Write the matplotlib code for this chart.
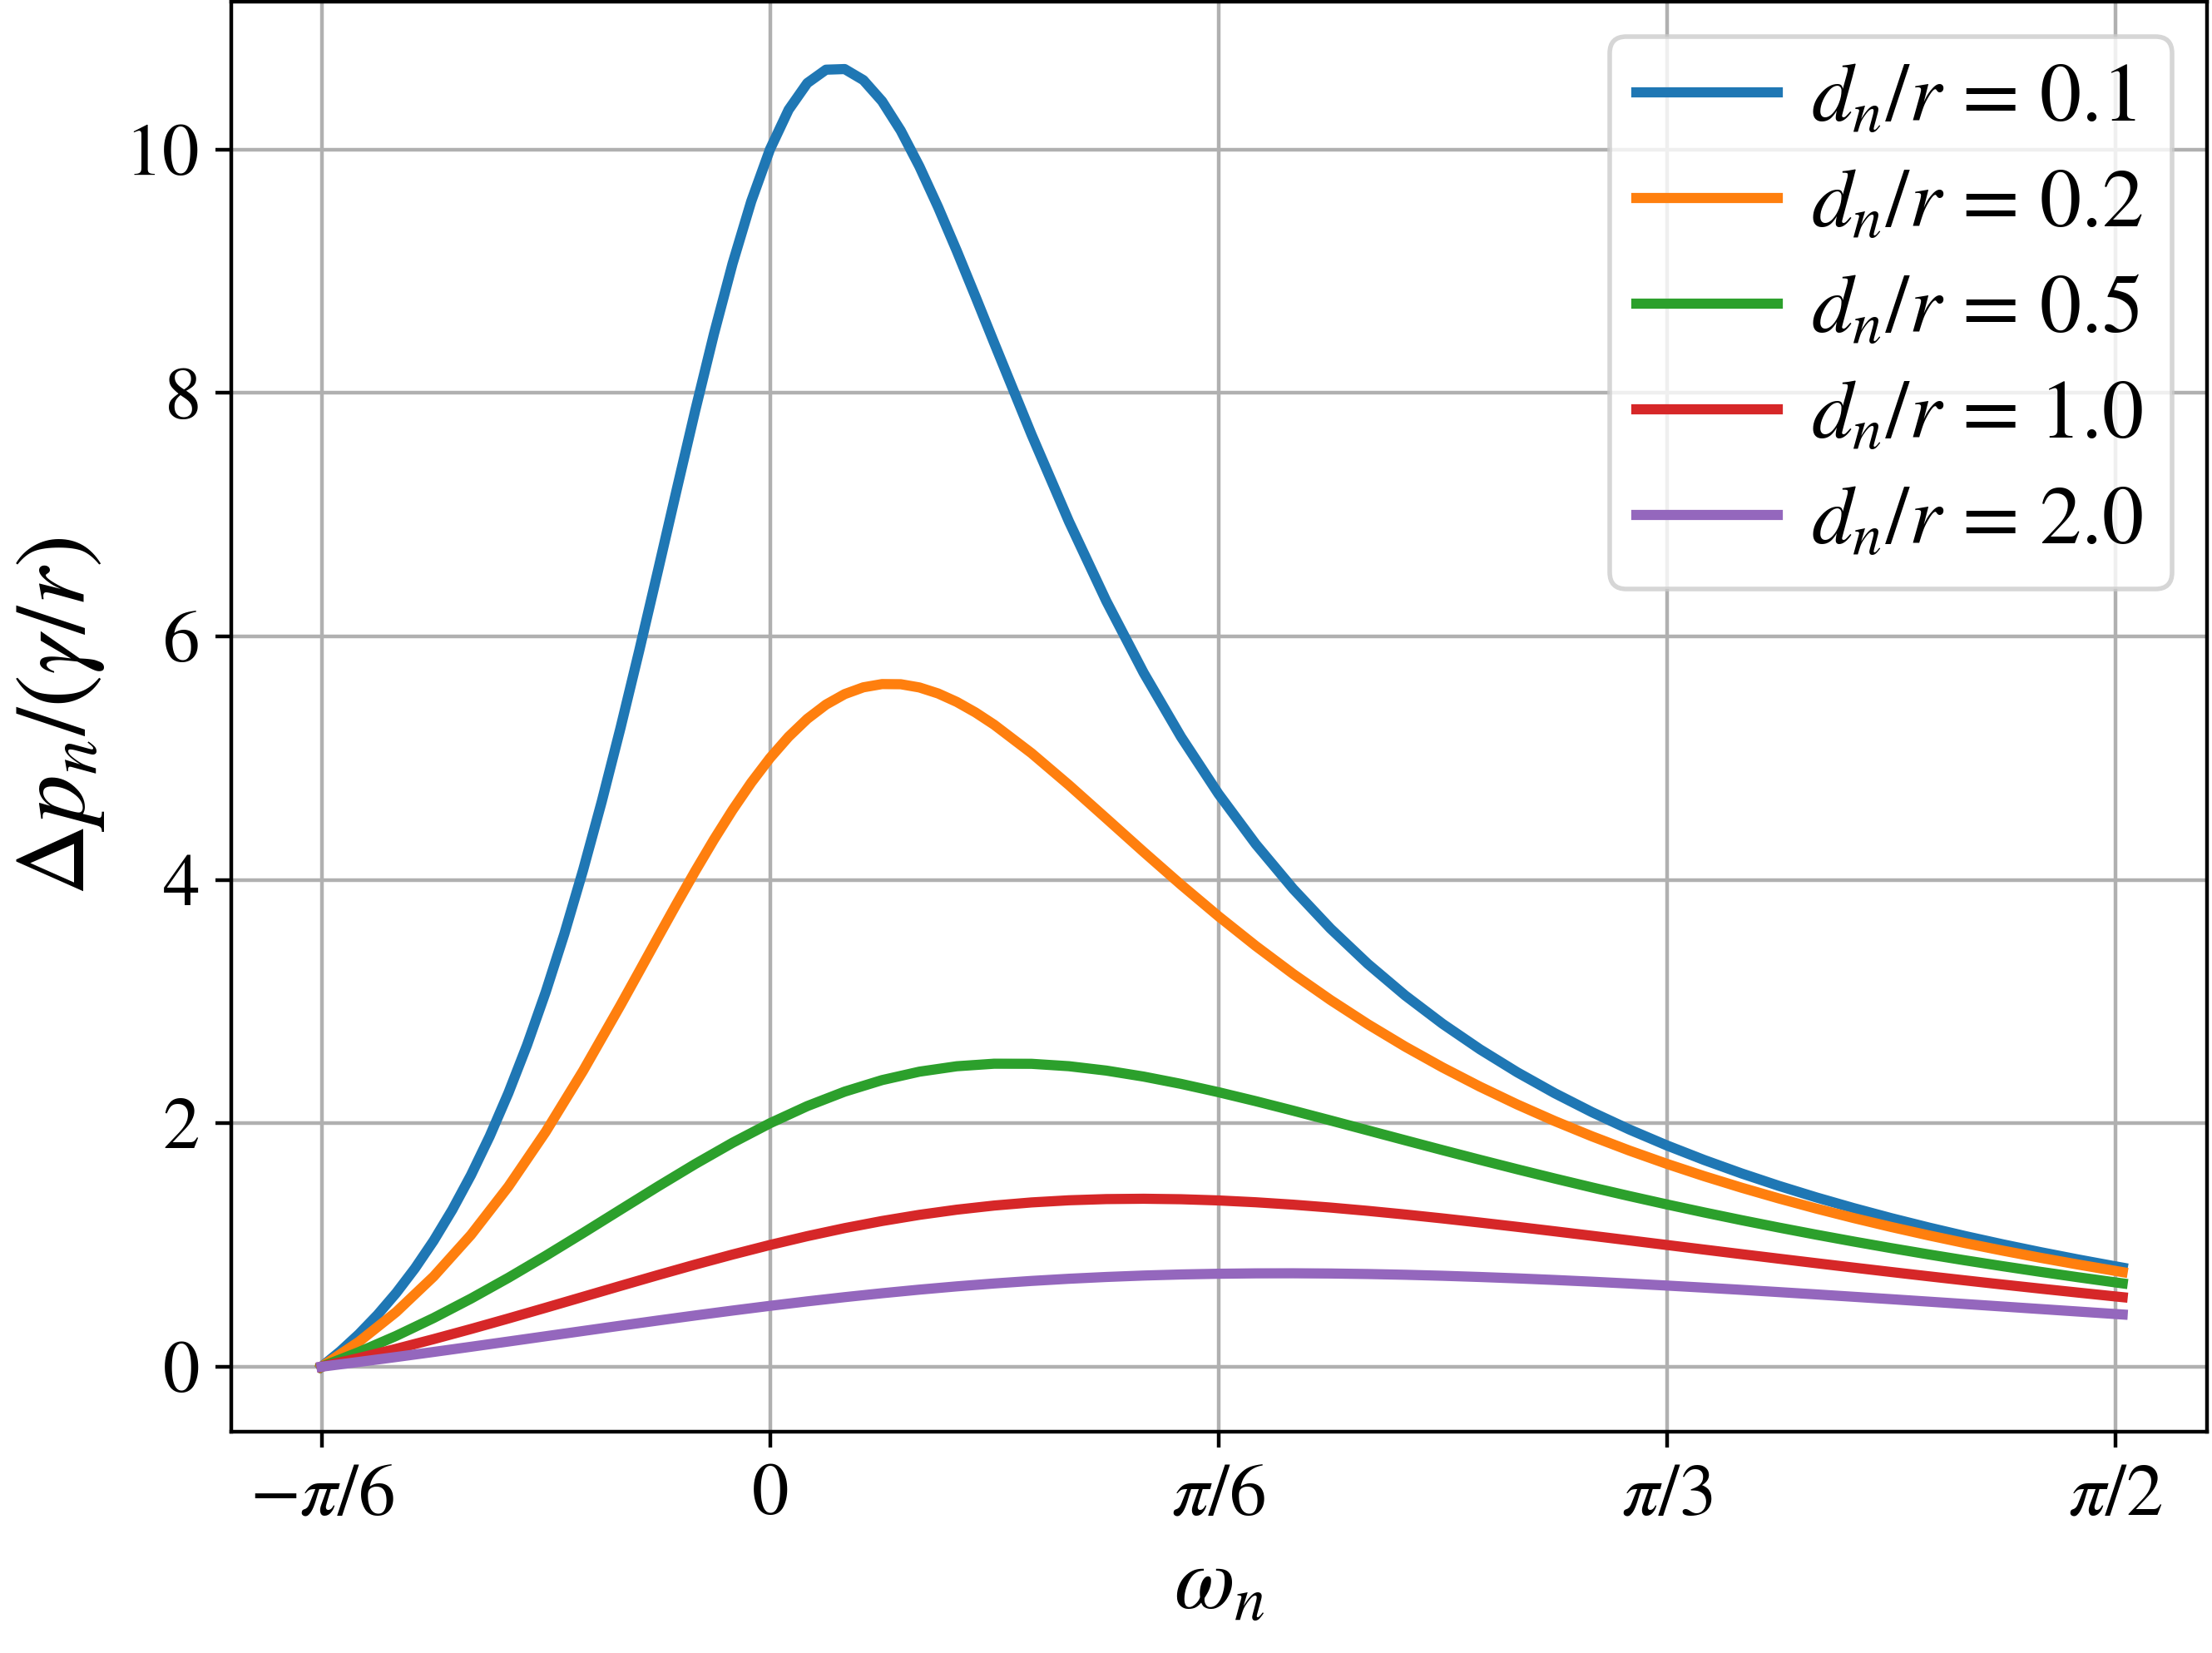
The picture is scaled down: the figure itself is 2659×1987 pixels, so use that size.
import numpy as np
import matplotlib
matplotlib.use("Agg")
import matplotlib.pyplot as plt

plt.rcParams["font.family"] = ["STIXGeneral", "Liberation Serif", "DejaVu Serif"]
plt.rcParams["mathtext.fontset"] = "stix"

# omega_n in degrees (converted to radians for plotting)
omega_deg = [-30, -27.5, -25, -22.5, -20, -17.5, -15, -12.5, -10, -7.5, -5, -2.5,
             0, 2.5, 5, 7.5, 10, 12.5, 15, 17.5, 20, 22.5, 25, 27.5,
             30, 32.5, 35, 37.5, 40, 42.5, 45, 47.5, 50, 52.5, 55, 57.5,
             60, 62.5, 65, 67.5, 70, 72.5, 75, 77.5, 80, 82.5, 85, 87.5, 90, 90.5]

# finer sampling where the d/r = 0.1 curve bends sharply
omega_deg_01 = [-30, -28.75, -27.5, -26.25, -25, -23.75, -22.5, -21.25, -20, -18.75, -17.5, -16.25,
                -15, -13.75, -12.5, -11.25, -10, -8.75, -7.5, -6.25, -5, -3.75, -2.5, -1.25,
                0, 1.25, 2.5, 3.75, 5, 6.25, 7.5, 8.75, 10, 11.25, 12.5, 13.75,
                15, 17.5, 20, 22.5, 25, 27.5,
                30, 32.5, 35, 37.5, 40, 42.5, 45, 47.5, 50, 52.5, 55, 57.5,
                60, 62.5, 65, 67.5, 70, 72.5, 75, 77.5, 80, 82.5, 85, 87.5, 90, 90.5]

dp_01 = [0.0, 0.1259, 0.2676, 0.4271, 0.6065, 0.8083, 1.0349, 1.2893, 1.5742, 1.8928, 2.2480, 2.6424,
         3.0785, 3.5575, 4.0800, 4.6441, 5.2464, 5.8801, 6.5354, 7.1991, 7.8546, 8.4826, 9.0625, 9.5742,
         10.0, 10.3263, 10.5453, 10.6552, 10.6603, 10.5697, 10.3964, 10.1548, 9.8599, 9.5260, 9.1663, 8.7915,
         8.4105, 7.6574, 6.9446, 6.2904, 5.7007, 5.1745,
         4.7073, 4.2932, 3.9260, 3.5998, 3.3093, 3.0497, 2.8170, 2.6076, 2.4184, 2.2470, 2.0910, 1.9486,
         1.8182, 1.6983, 1.5879, 1.4857, 1.3910, 1.3030, 1.2209, 1.1442, 1.0723, 1.0048, 0.9413, 0.8814, 0.8248, 0.8138]

# finer sampling around the d/r = 0.2 peak
omega_deg_02 = [-30, -27.5, -25, -22.5, -20, -17.5, -15, -12.5,
                -10, -8.75, -7.5, -6.25, -5, -3.75, -2.5, -1.25,
                0, 1.25, 2.5, 3.75, 5, 6.25, 7.5, 8.75, 10, 11.25, 12.5, 13.75,
                15, 17.5, 20, 22.5, 25, 27.5,
                30, 32.5, 35, 37.5, 40, 42.5, 45, 47.5, 50, 52.5, 55, 57.5,
                60, 62.5, 65, 67.5, 70, 72.5, 75, 77.5, 80, 82.5, 85, 87.5, 90, 90.5]

dp_02 = [0.0, 0.2048, 0.4500, 0.7411, 1.0832, 1.4796, 1.9304, 2.4309,
         2.9691, 3.2465, 3.5253, 3.8015, 4.0713, 4.3302, 4.5740, 4.7985,
         5.0, 5.1754, 5.3224, 5.4393, 5.5255, 5.5813, 5.6079, 5.6067, 5.5801, 5.5307, 5.4613, 5.3748,
         5.2740, 5.0401, 4.7786, 4.5046, 4.2292, 3.9598,
         3.7014, 3.4567, 3.2270, 3.0128, 2.8138, 2.6293, 2.4585, 2.3004, 2.1539, 2.0183, 1.8924, 1.7755,
         1.6667, 1.5653, 1.4707, 1.3822, 1.2993, 1.2215, 1.1483, 1.0794, 1.0144, 0.9530, 0.8948, 0.8397, 0.7873, 0.7771]

dp_05 = [0.0, 0.1202, 0.2536, 0.4002, 0.5596, 0.7305, 0.9111, 1.0987, 1.2897, 1.4801, 1.6651, 1.8400,
         2.0, 2.1411, 2.2599, 2.3545, 2.4239, 2.4683, 2.4892, 2.4884, 2.4687, 2.4327, 2.3834, 2.3235,
         2.2554, 2.1815, 2.1035, 2.0232, 1.9417, 1.8601, 1.7792, 1.6997, 1.6219, 1.5461, 1.4727, 1.4018,
         1.3333, 1.2674, 1.2040, 1.1431, 1.0846, 1.0284, 0.9745, 0.9228, 0.8730, 0.8253, 0.7794, 0.7353, 0.6928, 0.6845]

dp_10 = [0.0, 0.0712, 0.1468, 0.2266, 0.3099, 0.3962, 0.4846, 0.5742, 0.6639, 0.7525, 0.8389, 0.9217,
         1.0, 1.0726, 1.1385, 1.1970, 1.2477, 1.2900, 1.3240, 1.3496, 1.3672, 1.3771, 1.3798, 1.3759,
         1.3660, 1.3509, 1.3311, 1.3074, 1.2803, 1.2504, 1.2182, 1.1842, 1.1489, 1.1124, 1.0753, 1.0378,
         1.0, 0.9622, 0.9246, 0.8874, 0.8505, 0.8141, 0.7782, 0.7430, 0.7085, 0.6746, 0.6415, 0.6091, 0.5774, 0.5711]

dp_20 = [0.0, 0.0392, 0.0797, 0.1213, 0.1638, 0.2069, 0.2503, 0.2937, 0.3369, 0.3794, 0.4210, 0.4613,
         0.5, 0.5368, 0.5714, 0.6036, 0.6332, 0.6600, 0.6838, 0.7047, 0.7225, 0.7372, 0.7490, 0.7578,
         0.7637, 0.7669, 0.7675, 0.7657, 0.7615, 0.7553, 0.7471, 0.7371, 0.7256, 0.7126, 0.6984, 0.6830,
         0.6667, 0.6495, 0.6316, 0.6130, 0.5940, 0.5745, 0.5548, 0.5347, 0.5145, 0.4942, 0.4738, 0.4534, 0.4330, 0.4289]

labels = ["0.1", "0.2", "0.5", "1.0", "2.0"]
series = [(omega_deg_01, dp_01), (omega_deg_02, dp_02), (omega_deg, dp_05), (omega_deg, dp_10), (omega_deg, dp_20)]

xtick_vals = [-np.pi / 6, 0, np.pi / 6, np.pi / 3, np.pi / 2]
xtick_labels = [r"$-\pi/6$", r"$0$", r"$\pi/6$", r"$\pi/3$", r"$\pi/2$"]
ytick_vals = [0, 2, 4, 6, 8, 10]

fig = plt.figure(figsize=(2659 / 400, 1987 / 400), dpi=400)
ax = fig.add_axes([278 / 2659, 266 / 1987, 2375 / 2659, 1719 / 1987])

for (xs, ys), lab in zip(series, labels):
    ax.plot(np.deg2rad(xs), ys, lw=2.2, label=r"$d_n/r$ = " + lab + " ")

ax.set_xticks(xtick_vals)
ax.set_xticklabels(xtick_labels)
ax.set_yticks(ytick_vals)
ax.set_yticklabels([r"$%d$" % v for v in ytick_vals])
ax.set_xlim(-0.629, 1.678)
ax.set_ylim(-0.534, 11.214)
ax.tick_params(labelsize=16)
ax.grid(True)
ax.set_xlabel(r"$\omega_n$", fontsize=19)
ax.set_ylabel(r"$\Delta p_n/(\gamma/r)$", fontsize=21.5)
ax.legend(loc="upper right", fontsize=18, handlelength=1.7, handletextpad=0.4,
          labelspacing=0.35, borderpad=0.32, borderaxespad=0.42)

fig.savefig("out.png", dpi=400)
